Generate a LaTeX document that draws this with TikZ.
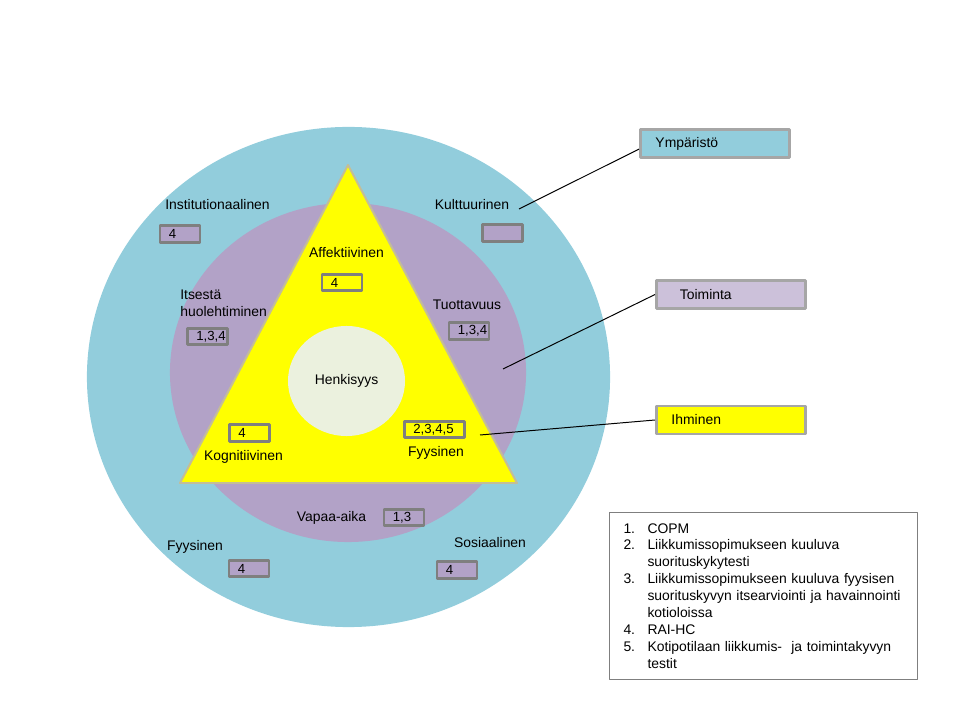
\documentclass[tikz,border=0pt]{standalone}
\usepackage{fontspec}
\setmainfont{Liberation Sans}
\usetikzlibrary{shapes.geometric}
\definecolor{envblue}{HTML}{92CDDC}
\definecolor{actpurple}{HTML}{B2A2C7}
\definecolor{actlight}{HTML}{CCC1DA}
\definecolor{coreyellow}{HTML}{FFFF00}
\definecolor{triedge}{HTML}{C4BD97}
\definecolor{spiritfill}{HTML}{EBF1DE}
\definecolor{boxgray}{HTML}{7F7F7F}
\definecolor{sidegray}{HTML}{A6A6A6}

\begin{document}
\begin{tikzpicture}[x=0.025cm,y=-0.025cm,line join=round,
  lbl/.style={font=\fontsize{9.9}{12}\selectfont,inner sep=0pt},
  numbox/.style={draw=boxgray,line width=2.1pt,fill=actpurple,minimum height=0.41cm,inner xsep=0.22cm,inner ysep=0pt,text width=#1,align=left,font=\fontsize{9.4}{11}\selectfont},
  numbox/.default=0.56cm,
  sidebox/.style={draw=sidegray,line width=2.1pt,minimum height=0.7cm,inner xsep=0.375cm,text width=2.975cm,align=left,font=\fontsize{9.9}{12}\selectfont},
  leader/.style={line width=0.7pt}]
\useasboundingbox (0,0) rectangle (960,720);
% rings
\fill[envblue] (348.5,377) ellipse [x radius=6.5375cm,y radius=6.25cm];
\fill[actpurple] (348,372.5) ellipse [x radius=4.45cm,y radius=4.2375cm];
% person triangle
\coordinate (apex) at (348,165);
\coordinate (bl) at (180,483);
\coordinate (br) at (517,483);
\filldraw[fill=coreyellow,draw=triedge,line width=1.4pt] (apex) -- (br) -- (bl) -- cycle;
\node[ellipse,fill=spiritfill,minimum width=2.925cm,minimum height=2.75cm,lbl] (henk) at (346.5,381) {Henkisyys};
% environment
\node[lbl] (inst) at (217.5,205) {Institutionaalinen};
\node[numbox] (instnum) at (180,234) {4};
\node[lbl] (kult) at (472,205) {Kulttuurinen};
\node[numbox] (kultnum) at (502.5,233) {};
\node[lbl] (fyysout) at (195,547) {Fyysinen};
\node[numbox] (fyysoutnum) at (249,568.5) {4};
\node[lbl] (sosi) at (490,543) {Sosiaalinen};
\node[numbox] (sosinum) at (457,570) {4};
% occupation
\node[lbl,anchor=west,align=left] (itse) at (180,303) {Itsestä\\huolehtiminen};
\node[numbox] (itsenum) at (207.5,336.5) {1,3,4};
\node[lbl] (tuot) at (467,305) {Tuottavuus};
\node[numbox] (tuotnum) at (469,331) {1,3,4};
\node[lbl] (vapaa) at (331.5,518) {Vapaa-aika};
\node[numbox] (vapaanum) at (404,517.5) {1,3};
% person
\node[lbl] (affe) at (346.5,253) {Affektiivinen};
\node[numbox,fill=coreyellow] (affenum) at (342,282.5) {4};
\node[lbl] (kogn) at (243.5,457) {Kognitiivinen};
\node[numbox,fill=coreyellow] (kognnum) at (249.5,433) {4};
\node[lbl] (fyysin) at (436,453) {Fyysinen};
\node[numbox=1.06cm,fill=coreyellow] (fyysinnum) at (434.5,429.5) {2,3,4,5};
% side captions
\node[sidebox,fill=envblue] (ymp) at (715,143.5) {Ympäristö};
\node[sidebox,fill=actlight] (toim) at (731,294.5) {\hspace*{0.21cm}Toiminta};
\node[sidebox,fill=coreyellow] (ihm) at (731,420) {Ihminen};
\coordinate (ympend) at (519,209);
\coordinate (toimend) at (503,369);
\coordinate (ihmend) at (480,435);
\draw[leader] ([yshift=-0.14cm]ymp.west) -- (ympend);
\draw[leader] (toim.west) -- (toimend);
\draw[leader] (ihm.west) -- (ihmend);
% legend
\node[draw=boxgray,line width=0.7pt,anchor=north west,minimum height=4.175cm,text width=7cm,inner xsep=0.35cm,align=left,font=\fontsize{9.9}{12.05}\selectfont] (legend) at (609,512) {%
\makebox[0.6cm][l]{1.}COPM\\
\makebox[0.6cm][l]{2.}Liikkumissopimukseen kuuluva\\
\hspace*{0.6cm}suorituskykytesti\\
\makebox[0.6cm][l]{3.}Liikkumissopimukseen kuuluva fyysisen\\
\hspace*{0.6cm}suorituskyvyn itsearviointi ja havainnointi\\
\hspace*{0.6cm}kotioloissa\\
\makebox[0.6cm][l]{4.}RAI-HC\\
\makebox[0.6cm][l]{5.}Kotipotilaan liikkumis-\ \ ja toimintakyvyn\\
\hspace*{0.6cm}testit};
\end{tikzpicture}
\end{document}
